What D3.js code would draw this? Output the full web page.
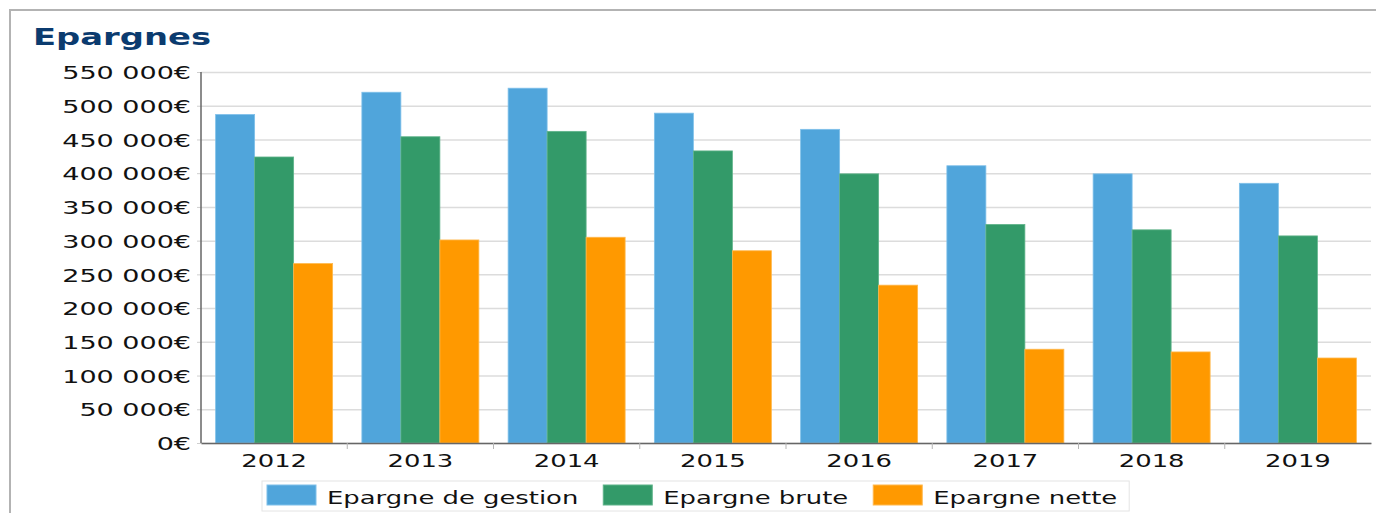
<!DOCTYPE html>
<html>
<head>
<meta charset="utf-8">
<script src="https://cdn.jsdelivr.net/npm/d3@7"></script>
<style>
  body { margin: 0; background: #fff; }
  text { font-family: "DejaVu Sans", Verdana, sans-serif; fill: #111; }
</style>
</head>
<body>
<div id="chart"></div>
<script>
const years = ['2012', '2013', '2014', '2015', '2016', '2017', '2018', '2019'];
const gestion = [487000, 520000, 526000, 489000, 465000, 411000, 399000, 385000];
const brute = [424000, 454000, 462000, 433000, 399000, 324000, 316000, 307000];
const nette = [266000, 301000, 305000, 285000, 234000, 139000, 135000, 126000];
const seriesNames = ['Epargne de gestion', 'Epargne brute', 'Epargne nette'];
const yTicks = [0, 50000, 100000, 150000, 200000, 250000, 300000, 350000, 400000, 450000, 500000, 550000];

const colors = ['#50a5db', '#339a69', '#ff9900'];
const edges = ['#7fc0ea', '#5fb38a', '#ffb84d'];
const stretch = 1.52; // the reference text is drawn wide

const W = 1376, H = 513;
const plotL = 201, plotT = 72, plotR = 1371, plotB = 443;

const svg = d3.select('#chart').append('svg')
  .attr('width', W)
  .attr('height', H);

// outer frame (top + left)
svg.append('path')
  .attr('d', `M10,${H} L10,10 L${W},10`)
  .attr('fill', 'none')
  .attr('stroke', '#b3b3b3')
  .attr('stroke-width', 2);

// title
svg.append('text')
  .attr('transform', `translate(33,45) scale(1.47,1)`)
  .style('font-size', '23px')
  .style('font-weight', 'bold')
  .style('fill', '#0b3b6f')
  .text('Epargnes');

const rows = years.map((yr, i) => ({ year: yr, values: [gestion[i], brute[i], nette[i]] }));

const xCat = d3.scaleBand().domain(years).range([plotL, plotR]);
const x0 = d3.scaleBand().domain(years).range([plotL, plotR]).paddingInner(0.2).paddingOuter(0.1);
const x1 = d3.scaleBand().domain(d3.range(seriesNames.length)).range([0, x0.bandwidth()]);
const y = d3.scaleLinear().domain([0, 550000]).range([plotB, plotT]);

const fmt = v => d3.format(',')(v).replace(/,/g, ' ') + '€';

// gridlines
svg.append('g')
  .attr('transform', `translate(${plotL},0)`)
  .call(d3.axisLeft(y).tickValues(yTicks).tickSize(-(plotR - plotL)).tickFormat(''))
  .call(g => g.select('.domain').remove())
  .call(g => g.selectAll('.tick line').attr('stroke', '#dcdcdc').attr('stroke-width', 1.5));

// y axis labels
svg.append('g')
  .attr('transform', `translate(${plotL},0)`)
  .call(d3.axisLeft(y).tickValues(yTicks).tickSize(4).tickFormat(fmt))
  .call(g => g.select('.domain').remove())
  .call(g => g.selectAll('.tick line').attr('stroke', '#cfcfcf'))
  .call(g => g.selectAll('.tick text')
    .attr('x', -10 / 1.5)
    .attr('dy', '0.37em')
    .attr('transform', 'scale(1.5,1)')
    .style('font-size', '18px')
    .style('fill', '#111'));

// bars
svg.append('g')
  .selectAll('g')
  .data(rows)
  .join('g')
  .attr('transform', d => `translate(${x0(d.year)},0)`)
  .selectAll('rect')
  .data(d => d.values.map((v, k) => ({ k, v })))
  .join('rect')
  .attr('x', d => x1(d.k))
  .attr('width', x1.bandwidth())
  .attr('y', d => y(d.v))
  .attr('height', d => y(0) - y(d.v))
  .attr('fill', d => colors[d.k])
  .attr('stroke', d => edges[d.k])
  .attr('stroke-width', 0.8);

// left axis line
svg.append('line')
  .attr('x1', plotL).attr('x2', plotL)
  .attr('y1', plotT).attr('y2', plotB)
  .attr('stroke', '#666').attr('stroke-width', 1.5);

// x axis
svg.append('g')
  .attr('transform', `translate(0,${plotB})`)
  .call(d3.axisBottom(xCat).tickSize(0).tickPadding(12))
  .call(g => g.select('.domain').attr('stroke', '#666').attr('stroke-width', 1.5))
  .call(g => g.selectAll('.tick text')
    .attr('transform', `scale(${stretch},1)`)
    .style('font-size', '17px')
    .style('fill', '#111'));

// category separators
svg.append('g')
  .selectAll('line')
  .data(years.slice(1))
  .join('line')
  .attr('x1', d => xCat(d)).attr('x2', d => xCat(d))
  .attr('y1', plotB).attr('y2', plotB + 6)
  .attr('stroke', '#b5b5b5');

// legend
const legend = svg.append('g');
const box = legend.append('rect')
  .attr('fill', '#fff')
  .attr('stroke', '#e4e4e4');
let lx = 267;
seriesNames.forEach((name, k) => {
  legend.append('rect')
    .attr('x', lx).attr('y', 485)
    .attr('width', 49).attr('height', 20)
    .attr('fill', colors[k])
    .attr('stroke', edges[k]);
  const t = legend.append('text')
    .attr('transform', `translate(${lx + 60},504) scale(${stretch},1)`)
    .style('font-size', '17px')
    .text(name);
  const tw = t.node().getComputedTextLength() * stretch;
  lx = lx + 60 + tw + 25;
});
box.attr('x', 262).attr('y', 481)
  .attr('width', lx - 25 + 12 - 262)
  .attr('height', 30);
</script>
</body>
</html>
